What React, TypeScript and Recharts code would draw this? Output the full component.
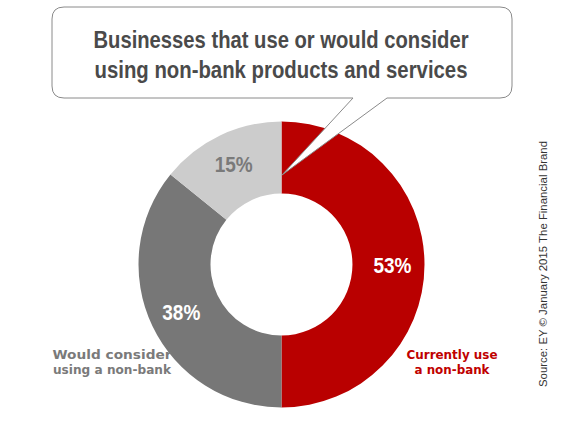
import React from "react";
import { PieChart, Pie, Cell } from "recharts";

const categories = ["Currently use a non-bank", "Would consider using a non-bank", "Other"];
const values = [53, 38, 15];
const titleLines = ["Businesses that use or would consider", "using non-bank products and services"];
const sourceText = "Source: EY \u00a9 January 2015 The Financial Brand";
const currentLines = ["Currently use", "a non-bank"];
const considerLines = ["Would consider", "using a non-bank"];

const sliceColors = ["#B90000", "#777777", "#CCCCCC"];
const labelColors = ["#FFFFFF", "#FFFFFF", "#7A7A7A"];

const data = categories.map((name, i) => ({ name, value: values[i] }));

const CONDENSED = "'Liberation Sans', Arial, sans-serif";
const WIDE = "'DejaVu Sans', Verdana, sans-serif";
const RADIAN = Math.PI / 180;

const renderLabel = (props: any) => {
  const { cx, cy, midAngle, value, index } = props;
  const r = 111;
  const x = cx + r * Math.cos(-midAngle * RADIAN);
  const y = cy + r * Math.sin(-midAngle * RADIAN);
  return (
    <text
      x={x}
      y={y + 8}
      textAnchor="middle"
      fill={labelColors[index]}
      fontFamily={CONDENSED}
      fontWeight="bold"
      fontSize={22}
      textLength={38}
      lengthAdjust="spacingAndGlyphs"
    >
      {`${value}%`}
    </text>
  );
};

export default function App() {
  return (
    <div style={{ position: "absolute", left: 0, top: 0, width: 565, height: 422, background: "#fff" }}>
      <PieChart width={565} height={422} margin={{ top: 0, right: 0, bottom: 0, left: 0 }}>
        <Pie
          data={data}
          dataKey="value"
          nameKey="name"
          cx={281.5}
          cy={264.5}
          innerRadius={71}
          outerRadius={143}
          startAngle={90}
          endAngle={-270}
          stroke="none"
          label={renderLabel}
          labelLine={false}
          isAnimationActive={false}
        >
          {data.map((d, i) => (
            <Cell key={d.name} fill={sliceColors[i]} stroke="none" />
          ))}
        </Pie>
      </PieChart>
      <svg
        width={565}
        height={422}
        style={{ position: "absolute", left: 0, top: 0, pointerEvents: "none" }}
      >
        <path
          d="M 64 7 L 500 7 Q 512 7 512 19 L 512 86 Q 512 98 500 98 L 387 98 L 282 175 L 353 98 L 64 98 Q 52 98 52 86 L 52 19 Q 52 7 64 7 Z"
          fill="#FFFFFF"
          stroke="#8A8A8A"
          strokeWidth={1}
        />
        <text x={281} y={48} textAnchor="middle" fill="#4A4A4A" fontFamily={CONDENSED} fontWeight="bold" fontSize={24}
          textLength={375} lengthAdjust="spacingAndGlyphs">
          {titleLines[0]}
        </text>
        <text x={281} y={78} textAnchor="middle" fill="#4A4A4A" fontFamily={CONDENSED} fontWeight="bold" fontSize={24}
          textLength={373} lengthAdjust="spacingAndGlyphs">
          {titleLines[1]}
        </text>
        <text x={112} y={359} textAnchor="middle" fill="#7A7A7A" fontFamily={WIDE} fontWeight="bold" fontSize={12.5}
          textLength={119} lengthAdjust="spacingAndGlyphs">
          {considerLines[0]}
        </text>
        <text x={112} y={374} textAnchor="middle" fill="#7A7A7A" fontFamily={WIDE} fontWeight="bold" fontSize={12.5}
          textLength={118} lengthAdjust="spacingAndGlyphs">
          {considerLines[1]}
        </text>
        <text x={452} y={359} textAnchor="middle" fill="#C00000" fontFamily={WIDE} fontWeight="bold" fontSize={12.5}
          textLength={91} lengthAdjust="spacingAndGlyphs">
          {currentLines[0]}
        </text>
        <text x={452} y={374} textAnchor="middle" fill="#C00000" fontFamily={WIDE} fontWeight="bold" fontSize={12.5}
          textLength={75} lengthAdjust="spacingAndGlyphs">
          {currentLines[1]}
        </text>
        <text
          transform="translate(547 264) rotate(-90)"
          textAnchor="middle"
          fill="#333333"
          fontFamily="'Liberation Sans', Arial, sans-serif"
          fontSize={11.4}
        >
          {sourceText}
        </text>
      </svg>
    </div>
  );
}
